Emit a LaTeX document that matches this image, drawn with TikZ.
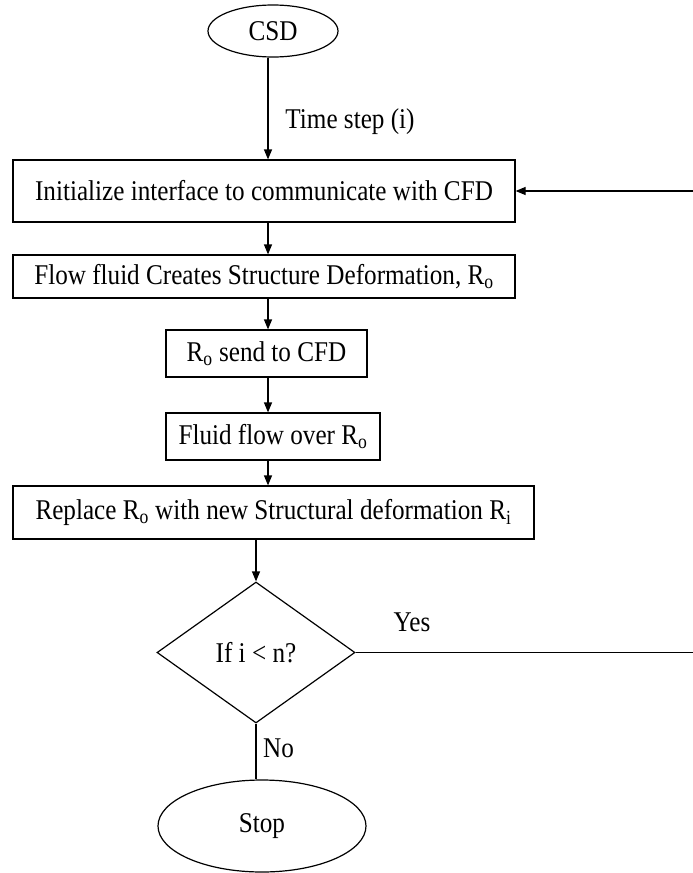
\documentclass[tikz,border=0pt]{standalone}
\usepackage{fontspec}
\setmainfont{Liberation Serif}[FakeStretch=0.88]
\usetikzlibrary{shapes.geometric,arrows.meta}
\tikzset{
  base/.style={draw=black,line width=1.2pt,inner sep=0pt,font=\fontsize{28.6}{30}\selectfont},
  procbox/.style={base,rectangle},
  termnode/.style={base,ellipse},
  decnode/.style={base,diamond,aspect=1.4},
  lbl/.style={inner sep=0pt,font=\fontsize{28.6}{30}\selectfont},
  arr/.style={line width=1.2pt,-{Triangle[length=10pt,width=8pt]}},
  ln/.style={line width=1.2pt}
}
\begin{document}
\begin{tikzpicture}[x=1pt,y=-1pt]
\useasboundingbox (0,0) rectangle (693,873);
\coordinate (ax) at (268,0);
\coordinate (redge) at (693,0);
\node[termnode,minimum width=130pt,minimum height=52pt] (csd) at (273,31) {CSD};
\node[procbox,minimum width=502pt,minimum height=62pt] (init) at (264,191) {Initialize interface to communicate with CFD};
\node[procbox,minimum width=502pt,minimum height=43pt] (flow) at (264,276.5) {Flow fluid Creates Structure Deformation, R\textsubscript{o}};
\node[procbox,minimum width=201pt,minimum height=47pt] (send) at (266.5,353.5) {R\textsubscript{o} send to CFD};
\node[procbox,minimum width=214pt,minimum height=47pt] (fluid) at (273,436.5) {Fluid flow over R\textsubscript{o}};
\node[procbox,minimum width=521pt,minimum height=53pt] (repl) at (273.5,512.5) {Replace R\textsubscript{o} with new Structural deformation R\textsubscript{i}};
\node[decnode,minimum width=198pt,minimum height=141pt] (dia) at (256,652.5) {If i < n?};
\node[termnode,minimum width=208pt,minimum height=92pt] (stop) at (262,826) {Stop};
\node[lbl] (ts) at (350,122) {Time step (i)};
\node[lbl] (yes) at (412,622) {Yes};
\node[lbl,anchor=west] (no) at (263,748) {No};
\draw[arr] (csd.south -| ax) -- (init.north -| ax);
\draw[arr] (init.south -| ax) -- (flow.north -| ax);
\draw[arr] (flow.south -| ax) -- (send.north -| ax);
\draw[arr] (send.south -| ax) -- (fluid.north -| ax);
\draw[arr] (fluid.south -| ax) -- (repl.north -| ax);
\draw[arr] (repl.south -| dia) -- (dia.north);
\draw[ln] (dia.south) -- (stop.north -| dia.south);
\draw[ln] (dia.east) -- (dia.east -| redge);
\draw[arr] (init.east -| redge) -- (init.east);
\end{tikzpicture}
\end{document}
